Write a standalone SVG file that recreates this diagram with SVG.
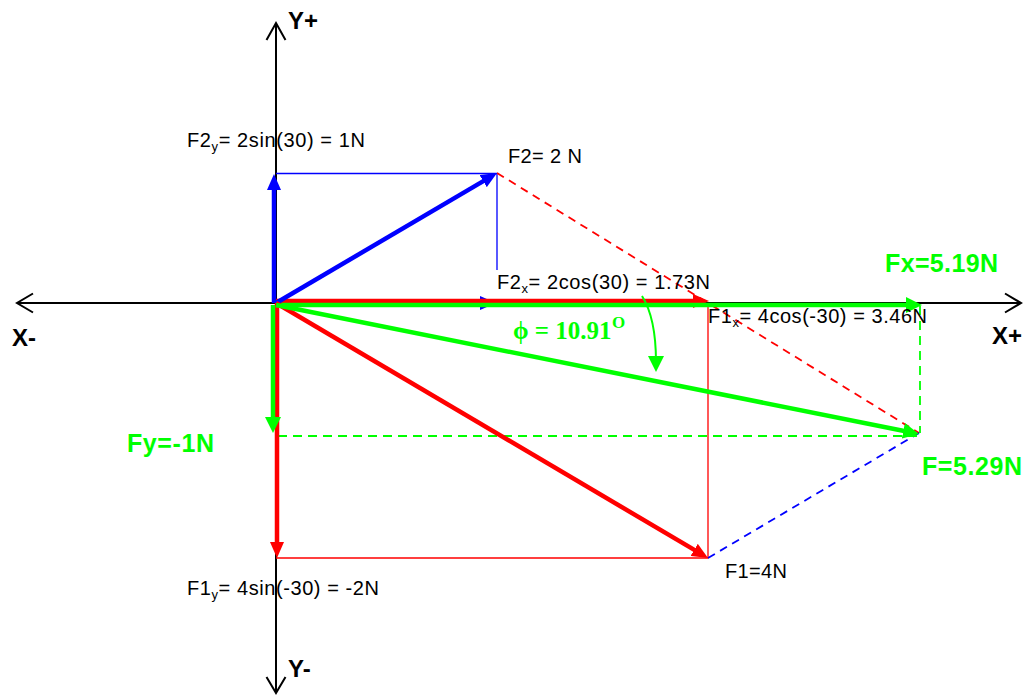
<svg xmlns="http://www.w3.org/2000/svg" width="1025" height="695" viewBox="0 0 1025 695">
<style>
.t{font-family:"Liberation Sans",Arial,sans-serif;font-size:20px;fill:#000}
.b{font-family:"Liberation Sans",Arial,sans-serif;font-size:24px;font-weight:bold;fill:#000}
.g{font-family:"Liberation Sans",Arial,sans-serif;font-size:25px;font-weight:bold;fill:#00ff00}
.sub{font-size:13px}
.axis{stroke:#000;stroke-width:2;fill:none}
.vr{stroke:#ff0000;stroke-width:4.5;fill:none}
.vb{stroke:#0000ff;stroke-width:4.5;fill:none}
.vg{stroke:#00ff00;stroke-width:4.5;fill:none}
.thr{stroke:#ff0000;stroke-width:1.3;fill:none}
.thb{stroke:#0000ff;stroke-width:1.3;fill:none}
.dr{stroke:#ff0000;stroke-width:1.8;stroke-dasharray:8 6;fill:none}
.db{stroke:#0000ff;stroke-width:1.8;stroke-dasharray:8 6;fill:none}
.dg{stroke:#00ff00;stroke-width:1.8;stroke-dasharray:9 6;fill:none}
.phi{font-family:"Liberation Serif","Times New Roman",serif;fill:#00ff00;font-weight:bold}
</style>
<defs>
<marker id="ar" markerUnits="userSpaceOnUse" markerWidth="16" markerHeight="14" refX="6" refY="7" orient="auto"><path d="M0,0 L16,7 L0,14 z" fill="#ff0000"/></marker>
<marker id="ab" markerUnits="userSpaceOnUse" markerWidth="16" markerHeight="14" refX="6" refY="7" orient="auto"><path d="M0,0 L16,7 L0,14 z" fill="#0000ff"/></marker>
<marker id="ag" markerUnits="userSpaceOnUse" markerWidth="16" markerHeight="16" refX="6" refY="8" orient="auto"><path d="M0,0 L16,8 L0,16 z" fill="#00ff00"/></marker>
</defs>
<rect width="1025" height="695" fill="#fff"/>

<g id="axes">
<line class="axis" x1="17" y1="303" x2="1021" y2="303"/>
<polyline class="axis" points="1005,293.5 1021,303 1005,312.5"/>
<polyline class="axis" points="33,293.5 17,303 33,312.5"/>
<line class="axis" x1="276" y1="23" x2="276" y2="693"/>
<polyline class="axis" points="266.5,40 276,23 285.5,40"/>
<polyline class="axis" points="266.5,677 276,693 285.5,677"/>
</g>

<g id="connectors">
<polyline class="thb" points="276,173.5 497,173.5 497,270"/>
<polyline class="thr" points="276,558 708,558 708,303"/>
<line class="dr" x1="497" y1="173" x2="919" y2="433"/>
<line class="db" x1="708" y1="558" x2="919" y2="433"/>
<line class="dg" x1="920" y1="306" x2="920" y2="433"/>
<line class="dg" x1="278" y1="436" x2="919" y2="436"/>
<line class="vb" x1="276" y1="303" x2="486" y2="303" marker-end="url(#ab)"/>
<line class="vb" x1="274" y1="303" x2="274" y2="184" marker-end="url(#ab)"/>
<line class="vr" x1="276" y1="301" x2="699" y2="301" marker-end="url(#ar)"/>
<line class="vr" x1="277" y1="303" x2="277" y2="548" marker-end="url(#ar)"/>
<line class="vg" x1="276" y1="305" x2="912" y2="305" marker-end="url(#ag)"/>
<line class="vg" x1="273" y1="305" x2="273" y2="423" marker-end="url(#ag)"/>
<line class="vb" x1="276" y1="303" x2="488.4" y2="178.1" marker-end="url(#ab)"/>
<line class="vr" x1="276" y1="303" x2="699.4" y2="552.9" marker-end="url(#ar)"/>
<line class="vg" x1="276" y1="305" x2="909.2" y2="432" marker-end="url(#ag)"/>
<path d="M642,296 Q656,318 656,362" stroke="#00ff00" stroke-width="2" fill="none" marker-end="url(#ag)"/>
</g>

<g id="label-yplus"><text class="b" x="288" y="29">Y+</text></g>
<g id="label-yminus"><text class="b" x="288" y="677">Y-</text></g>
<g id="label-xplus"><text class="b" x="992" y="344">X+</text></g>
<g id="label-xminus"><text class="b" x="12" y="346">X-</text></g>

<g id="label-f2y"><text class="t" x="187" y="147" textLength="178" lengthAdjust="spacing">F2<tspan class="sub" dy="4">y</tspan><tspan dy="-4">= 2sin(30) = 1N</tspan></text></g>
<g id="label-f2"><text class="t" x="508" y="163" textLength="74" lengthAdjust="spacing">F2= 2 N</text></g>
<g id="label-f2x"><text class="t" x="497" y="289" textLength="213" lengthAdjust="spacing">F2<tspan class="sub" dy="4">x</tspan><tspan dy="-4">= 2cos(30) = 1.73N</tspan></text></g>
<g id="label-f1x"><text class="t" x="708" y="323" textLength="219" lengthAdjust="spacing">F1<tspan class="sub" dy="4">x</tspan><tspan dy="-4">= 4cos(-30) = 3.46N</tspan></text></g>
<g id="label-f1y"><text class="t" x="187" y="595" textLength="192" lengthAdjust="spacing">F1<tspan class="sub" dy="4">y</tspan><tspan dy="-4">= 4sin(-30) = -2N</tspan></text></g>
<g id="label-f1"><text class="t" x="725" y="578" textLength="62" lengthAdjust="spacing">F1=4N</text></g>

<g id="label-fx"><text class="g" x="885" y="272" textLength="113" lengthAdjust="spacing">Fx=5.19N</text></g>
<g id="label-fy"><text class="g" x="127" y="452" textLength="87" lengthAdjust="spacing">Fy=-1N</text></g>
<g id="label-f"><text class="g" x="922" y="475" textLength="100" lengthAdjust="spacing">F=5.29N</text></g>
<g id="label-phi">
<text class="phi" x="513" y="339" font-size="25">ϕ = 10.91</text>
<text class="phi" x="612" y="328" font-size="17" font-weight="normal">O</text>
</g>
</svg>
